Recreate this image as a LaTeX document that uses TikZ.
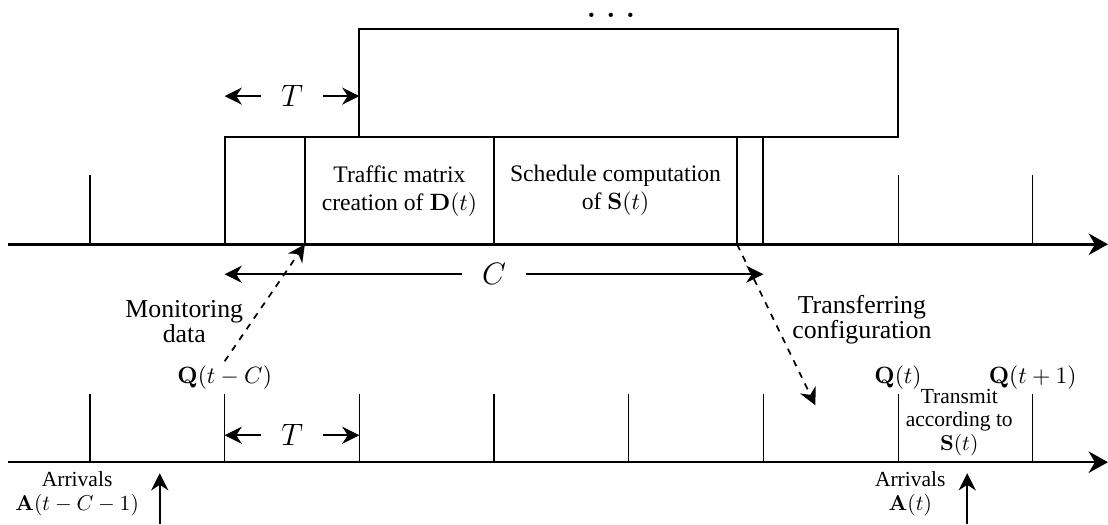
\documentclass[tikz,border=0pt]{standalone}
\usepackage[no-math]{fontspec}
\setmainfont{Liberation Serif}
\usetikzlibrary{positioning,arrows.meta,calc}
\tikzset{
  axis/.style={line width=1.2pt, -{Stealth[length=9pt, width=10pt]}},
  tck/.style={line width=0.5pt},
  blk/.style={draw, line width=1pt, minimum height=1.75cm, inner sep=0pt, outer sep=0pt, anchor=south west, align=center, font=\fontsize{11}{13}\selectfont},
  dim/.style={thick, -{Stealth[length=8pt, width=8pt]}},
  msg/.style={thick, dashed, -{Stealth[length=8pt, width=8pt]}},
  lbl/.style={font=\Large, inner xsep=9pt},
  val/.style={font=\fontsize{11.3}{13}\selectfont, anchor=south, inner sep=2pt},
  note/.style={font=\fontsize{12}{11.6}\selectfont, align=center},
  small/.style={font=\fontsize{10}{11}\selectfont, align=center}}

\begin{document}
\begin{tikzpicture}[node distance=0pt]
\useasboundingbox (-1.47,-1.01) rectangle (16.63,7.55);
% the two time lines
\draw[axis] (-1.34,0) -- (16.63,0);
\draw[axis] (-1.34,3.56) -- (16.63,3.56);
\foreach \k in {0,...,7} {
  \coordinate (l\k) at (\k*2.2,0);
  \draw[tck] (l\k) -- ++(0,1.11);
}
\foreach \k in {0,6,7} \draw[tck] (\k*2.2,3.56) -- ++(0,1.13);
% controller blocks
\node[blk, minimum width=1.31cm] (b0) at (2.2,3.56) {};
\node[blk, minimum width=3.09cm, right=of b0] (b1) {Traffic matrix\\creation of $\mathbf{D}(t)$};
\node[blk, minimum width=3.97cm, right=of b1] (b2) {Schedule computation\\of $\mathbf{S}(t)$};
\node[blk, minimum width=0.43cm, right=of b2] (b3) {};
\node[blk, minimum width=8.8cm, minimum height=1.76cm] (up) at (4.4,5.31) {};
\node[font=\huge, inner sep=0pt, anchor=base] (dots) at (8.51,7.27) {$\ldots$};
% durations
\node[lbl] (tu) at (3.3,5.98) {$T$};
\draw[dim] (tu) -- (tu -| b0.west);
\draw[dim] (tu) -- (tu -| up.west);
\node[lbl] (c) at (6.6,3.07) {$C$};
\draw[dim] (c) -- (c -| b0.west);
\draw[dim] (c) -- (c -| b3.east);
\node[lbl] (tl) at (3.3,0.44) {$T$};
\draw[dim] (tl) -- (tl -| l1);
\draw[dim] (tl) -- (tl -| l2);
% queue states
\node[val] (q0) at (2.2,1.11) {$\mathbf{Q}(t-C)$};
\node[val] (q1) at (13.2,1.11) {$\mathbf{Q}(t)$};
\node[val] (q2) at (15.4,1.11) {$\mathbf{Q}(t+1)$};
% messages
\node[note] (mon) at (1.54,2.29) {Monitoring\\data};
\draw[msg] (q0.north) -- (b1.south west);
\coordinate (cfg) at (11.85,0.93);
\node[note] (tr) at (12.61,2.32) {Transferring\\configuration};
\draw[msg] (b3.south west) -- (cfg);
\node[small, inner sep=1pt] (tx) at (14.2,0.65) {Transmit\\according to\\$\mathbf{S}(t)$};
% arrivals
\node[small] (a0) at (-0.21,-0.52) {Arrivals\\$\mathbf{A}(t-C-1)$};
\node[small] (a1) at (13.4,-0.52) {Arrivals\\$\mathbf{A}(t)$};
\coordinate (in0) at (1.14,-1.01);
\coordinate (in1) at (14.33,-1.01);
\draw[dim] (in0) -- ++(0,0.83);
\draw[dim] (in1) -- ++(0,0.83);
\end{tikzpicture}
\end{document}
